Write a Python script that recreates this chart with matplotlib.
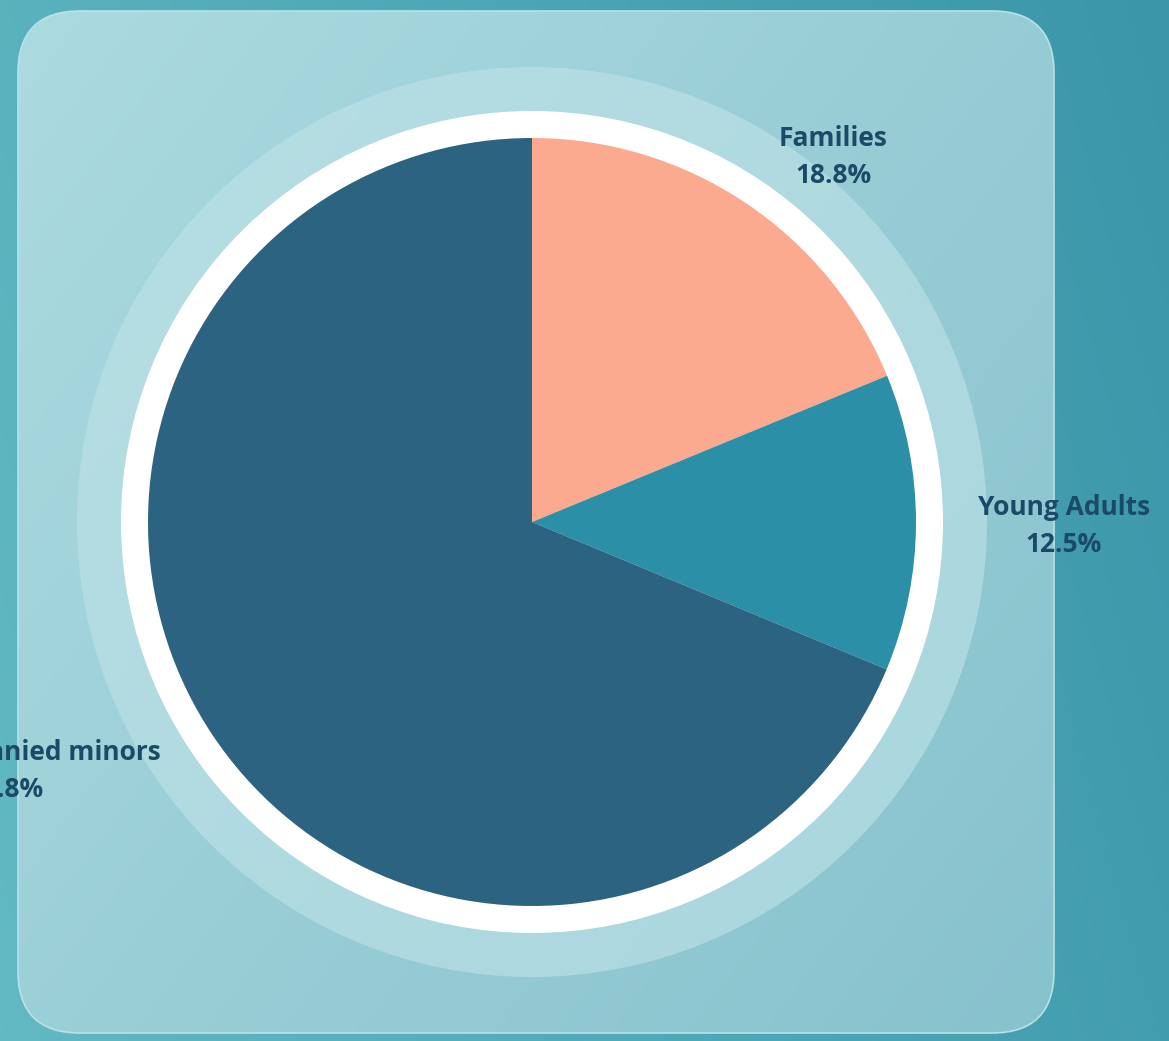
import matplotlib
matplotlib.use('Agg')
import matplotlib.pyplot as plt
import numpy as np
from matplotlib.patches import FancyBboxPatch, Circle
from matplotlib.colors import LinearSegmentedColormap

# --- data ---
groups = ['Families', 'Young Adults', 'Unaccompanied minors']
shares = [18.8, 12.5, 68.8]
colors = ['#fbaa8f', '#2b8fa7', '#2b6381']

W, H = 1169, 1041
fig = plt.figure(figsize=(W / 100, H / 100), dpi=100)
ax = fig.add_axes([0, 0, 1, 1])

# --- background gradient ---
xx, yy = np.meshgrid(np.linspace(0, 1, 300), np.linspace(0, 1, 300))
bg_cmap = LinearSegmentedColormap.from_list('bg', ['#62b9c3', '#3a96a9'])
ax.imshow(0.8 * xx + 0.2 * (1 - yy), cmap=bg_cmap, extent=(0, W, 0, H),
          origin='upper', aspect='auto', zorder=0)

# --- rounded panel ---
panel = FancyBboxPatch((18, 8), 1036, 1022, boxstyle='round,pad=0,rounding_size=62',
                       facecolor='none', edgecolor='#b8e2e6', linewidth=1.2, zorder=2)
ax.add_patch(panel)
panel_cmap = LinearSegmentedColormap.from_list('panel', ['#acdbe0', '#98cdd6', '#85c0cc'])
img = ax.imshow(0.6 * xx + 0.4 * yy, cmap=panel_cmap, extent=(0, W, 0, H),
                origin='upper', aspect='auto', zorder=1)
img.set_clip_path(panel)

# --- halo and white ring ---
cx, cy = 532, 519
ax.add_patch(Circle((cx, cy), 455, facecolor='#c0e3e8', alpha=0.6, edgecolor='none', zorder=3))
ax.add_patch(Circle((cx, cy), 411, facecolor='white', edgecolor='none', zorder=4))

# --- pie ---
wedges, _ = ax.pie(shares, colors=colors, startangle=90, counterclock=False,
                   center=(cx, cy), radius=384, frame=True,
                   wedgeprops=dict(linewidth=0))
for w in wedges:
    w.set_zorder(5)
ax.set_xlim(0, W)
ax.set_ylim(0, H)
ax.set_aspect('auto')
ax.axis('off')

# --- labels ---
label_pos = [(833, 884), (1064, 515), (5, 270)]
for name, val, (lx, ly) in zip(groups, shares, label_pos):
    ax.text(lx, ly, f"{name}\n{val:.1f}%", ha='center', va='center',
            fontsize=19, fontweight='bold', family='Open Sans',
            color='#1b4a66', linespacing=1.5, zorder=6)

plt.savefig('out.png', dpi=100)
plt.close()
